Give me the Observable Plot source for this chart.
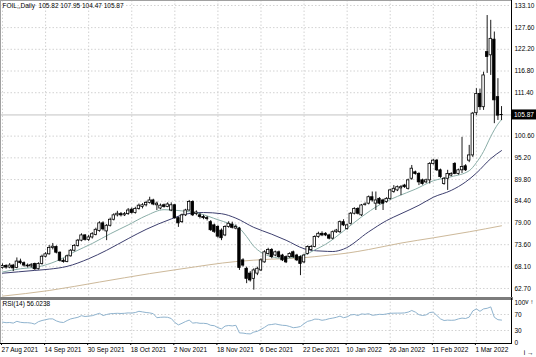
<!DOCTYPE html>
<html><head><meta charset="utf-8">
<script src="https://cdn.jsdelivr.net/npm/d3@7"></script>
<script src="https://cdn.jsdelivr.net/npm/@observablehq/plot@0.6"></script>
<style>
html,body{margin:0;padding:0;background:#fff;}
#chart{position:relative;width:536px;height:357px;overflow:hidden;background:#fff;}
#chart svg{position:absolute;left:0;}
</style></head><body><div id="chart"></div>
<script>
const symbol = "FOIL,,Daily";
const rsiName = "RSI(14)";

const opens = [67.8,68.3,67.9,68.4,67.8,69.4,69.0,68.4,68.2,68.8,
67.5,68.8,70.6,71.2,72.8,73.0,71.6,69.6,69.3,70.7,
72.1,73.3,74.6,75.9,74.8,75.4,76.0,77.0,78.9,76.9,
78.3,79.8,80.9,81.2,80.9,81.2,82.3,81.5,82.5,83.0,
83.4,84.0,84.6,83.4,82.6,83.4,83.0,82.1,83.4,80.2,
79.2,80.9,82.1,84.2,81.2,80.9,80.5,80.2,79.2,78.4,
78.0,77.1,75.9,78.0,78.6,77.6,77.6,69.7,67.6,66.4,
65.1,66.4,67.2,69.2,71.3,72.3,70.9,71.7,70.9,70.5,
70.5,71.7,70.9,70.5,69.2,71.3,72.3,73.0,75.5,76.3,
76.3,75.9,75.1,76.7,76.7,79.2,77.5,78.8,81.3,82.5,
80.9,83.5,83.8,85.4,83.8,85.0,84.6,84.2,85.0,86.7,
87.1,87.6,88.3,87.5,90.0,91.6,91.2,89.6,89.1,89.6,
93.7,94.5,92.1,88.7,90.0,90.8,93.7,91.2,92.1,93.1,
94.5,95.8,106.3,111.1,107.8,121.5,120.7,124.6,110.3,105.82];
const highs = [68.8,68.6,68.9,68.7,70.3,70.0,69.3,68.8,68.9,69.0,
69.1,71.0,71.6,73.4,73.9,73.3,71.8,70.1,71.0,72.4,
73.6,74.9,76.3,76.1,75.9,76.6,77.7,79.3,79.3,78.6,
80.2,81.3,81.9,81.6,81.6,82.6,82.7,82.9,83.7,83.8,
84.4,85.4,84.9,84.2,83.7,83.7,84.0,84.0,83.6,80.5,
81.2,82.4,84.6,84.5,82.0,81.4,80.9,80.6,79.6,78.7,
78.3,77.5,78.3,79.3,79.2,78.5,77.9,70.1,68.0,66.9,
67.6,68.0,70.1,72.1,72.7,72.6,72.0,72.0,71.2,70.8,
71.6,72.0,71.2,70.8,71.2,73.3,73.4,75.8,76.7,76.8,
76.6,76.2,77.0,77.4,79.5,79.8,78.7,81.6,82.8,82.8,
83.6,84.0,85.7,86.7,86.7,85.3,84.9,85.3,87.4,88.3,
88.2,88.3,88.6,89.9,93.3,91.9,91.5,89.9,89.9,94.0,
94.8,94.8,92.4,90.3,92.1,91.5,94.0,92.4,100.3,93.5,
98.3,106.5,112.4,112.3,116.5,130.6,129.4,126.5,114.9,107.95];
const lows = [67.5,67.5,67.6,66.9,67.6,68.6,68.0,67.8,67.8,67.2,
67.3,68.5,70.3,71.0,72.3,71.3,69.3,69.0,69.1,70.5,
71.8,73.0,74.3,74.5,74.4,75.0,75.8,76.7,77.0,74.6,
78.0,79.5,80.5,80.5,80.6,80.9,81.2,81.2,82.2,82.5,
83.0,83.7,83.3,82.1,82.3,82.7,82.8,81.8,79.9,77.9,
78.9,80.6,81.9,80.6,80.8,80.0,79.8,79.5,76.9,76.4,
75.2,74.6,75.6,77.7,77.5,77.3,67.2,68.0,63.9,64.3,
62.3,65.9,66.9,69.0,71.0,70.1,70.6,70.2,69.4,68.9,
70.2,70.2,69.4,65.9,68.9,71.0,72.0,72.8,75.2,75.6,
75.6,74.8,74.8,76.4,76.4,78.1,77.2,78.5,81.0,81.0,
80.6,83.2,83.5,84.2,82.1,83.5,82.1,83.9,84.7,86.4,
86.8,85.8,87.6,87.2,89.6,90.9,88.3,88.4,88.8,88.7,
93.4,91.8,90.1,88.4,87.1,90.5,91.0,90.9,91.3,91.8,
94.0,95.3,105.7,107.0,107.0,116.2,115.7,103.7,104.5,104.47];
const closes = [68.3,67.9,68.4,67.7,69.4,69.0,68.4,68.2,68.5,67.5,
68.8,70.6,71.2,72.8,73.1,71.6,69.6,69.3,70.7,72.1,
73.3,74.6,75.9,74.8,75.4,76.2,77.3,78.9,77.4,78.3,
79.8,80.9,81.3,80.9,81.2,82.1,81.5,82.5,83.3,83.4,
84.0,84.6,83.6,83.8,83.3,83.0,83.6,83.4,80.2,78.9,
80.9,82.1,84.2,80.9,81.6,80.5,80.2,80.0,77.2,76.8,
75.6,75.2,78.0,78.8,77.8,78.0,67.8,68.4,65.1,64.7,
67.2,67.6,69.7,71.7,72.3,70.5,71.7,70.5,69.7,69.2,
71.3,70.5,69.7,68.8,70.9,73.0,73.0,75.5,76.3,75.9,
75.9,75.1,76.7,77.1,79.2,78.4,78.4,81.3,82.5,81.3,
83.35,83.6,85.4,84.6,84.6,83.8,83.8,85.0,87.1,87.5,
87.9,87.9,87.9,89.6,92.5,91.2,89.1,88.7,89.6,93.7,
94.5,92.1,90.4,90.0,91.2,91.2,91.2,92.1,92.9,92.1,
95.8,106.2,111.1,107.8,115.7,120.3,124.8,109.5,105.7,105.87];

// moving averages, read at sample bars
const fastIdx = [0,5,10,15,20,25,30,35,40,45,50,55,60,63,66,68,70,72,75,78,81,84,87,90,95,100,105,110,115,120,125,130,132,134,136,138,139];
const fastVal = [66.8,67.6,68.1,69.5,71.8,73.9,76.3,78.5,80.8,82.3,82.0,81.3,79.8,78.9,77.7,75.6,73.2,71.7,70.6,70.2,70.4,71.0,72.3,73.7,77.0,80.5,83.5,85.6,87.4,89.5,90.5,92.0,94.0,96.8,100.5,103.6,104.7];
const midIdx = [0,9,13,18,24,29,35,40,47,51,56,61,65,70,75,79,84,86,89,92,95,102,107,111,116,120,125,129,132,136,139];
const midVal = [66.5,67.2,67.5,68.2,70.1,72.2,75.1,77.4,80.0,81.2,81.6,81.3,80.2,77.9,76.2,74.7,72.6,72.2,72.0,71.9,72.5,76.8,79.6,81.3,83.4,85.4,87.1,89.2,91.4,95.0,97.0];
const slowIdx = [0,13,27,41,50,65,75,83,91,96,102,111,120,130,139];
const slowVal = [60.8,62.2,64.3,66.4,67.6,69.4,70.0,70.3,71.0,71.5,72.4,74.0,75.3,76.8,78.3];

const rsi = [51,49.5,50,48.5,53,50.5,49.5,49.5,48.5,46,
52,55,57,59,59,54,51,50,55,59,
61,63,67,65,66,67,70,73,67.5,70,
72,72.5,73,72.5,73,74,73.5,75,78,76.5,
75,74,72,62,63,63.5,63,60,50,44,
48,52.5,56,48.5,49.5,48,48,47,43,42,
37,34,41,42.5,41.5,43,24,23.5,22,21.5,
26,28,33,38,44,45,46.5,44.5,43,42.5,
40,37,38,40,47,53,55,58.5,58,55.5,
57,59.5,61,63,66,62,64,69,70,67.5,
71.5,70.5,72,68,69,70.5,70,71.5,73,73.3,
73.5,73.5,74,76,80,76,69.5,67.5,69,75,
76,67.5,59,55,56,55.5,56,59,61,60,
63.5,79,84,78,84,85.5,89,63,57,56.0238];

const priceTicks = [62.70,68.10,73.60,79.00,84.40,89.80,95.20,100.60,111.40,116.80,122.20,127.60,133.10];
const rsiTicks = [100,70,30,0];
const rsiLevels = [70,30];
const dateTickIdx = [0,12,24,36,48,60,72,84,96,108,120,132];
const dateTickLabels = ["27 Aug 2021","14 Sep 2021","30 Sep 2021","18 Oct 2021","2 Nov 2021","18 Nov 2021","6 Dec 2021","22 Dec 2021","10 Jan 2022","26 Jan 2022","11 Feb 2022","1 Mar 2022"];

const N = closes.length;
const bars = d3.range(N).map(i => ({i, o: opens[i], h: highs[i], l: lows[i], c: closes[i]}));
const fast = fastIdx.map((i,k) => ({i, v: fastVal[k]}));
const mid = midIdx.map((i,k) => ({i, v: midVal[k]}));
const slow = slowIdx.map((i,k) => ({i, v: slowVal[k]}));
const rsiData = rsi.map((v,i) => ({i, v}));

const last = bars[N-1];
const f2 = d => d.toFixed(2);
const title = `${symbol}  ${f2(last.o)} ${f2(last.h)} ${f2(last.l)} ${f2(last.c)}`;
const rsiTitle = `${rsiName} ${rsi[N-1].toFixed(4)}`;

const W = 536;
const xDomain = [-0.56, 141.78];
const font = "Liberation Sans, Arial, sans-serif";
const fs = 6.5;
const grid = {stroke: "#c6c6c6", strokeDasharray: "1.5,2", strokeWidth: 0.8};
const styleObj = {fontFamily: font, fontSize: fs + "px", background: "transparent", overflow: "visible", color: "black"};

const main = Plot.plot({
  width: W, height: 298,
  marginLeft: 0, marginRight: 25, marginTop: 0, marginBottom: 0,
  style: styleObj,
  x: {domain: xDomain, axis: null},
  y: {domain: [60.21, 134.34], axis: null},
  marks: [
    Plot.ruleY(priceTicks, grid),
    Plot.ruleX(dateTickIdx, grid),
    Plot.ruleY([last.c], {stroke: "#b4b4b4", strokeWidth: 0.8}),
    Plot.line(slow, {x: "i", y: "v", stroke: "#cdb99a", strokeWidth: 1, curve: "monotone-x"}),
    Plot.line(mid, {x: "i", y: "v", stroke: "#3e406f", strokeWidth: 1, curve: "monotone-x"}),
    Plot.line(fast, {x: "i", y: "v", stroke: "#8aaea8", strokeWidth: 1, curve: "monotone-x"}),
    Plot.ruleX(bars, {x: "i", y1: "l", y2: "h", stroke: "black", strokeWidth: 0.9}),
    Plot.rect(bars, {x1: d => d.i - 0.34, x2: d => d.i + 0.34, y1: "o", y2: "c",
      fill: d => d.c >= d.o ? "white" : "black", stroke: "black", strokeWidth: 0.8}),
    Plot.frame({stroke: "#a0a0a0"}),
    Plot.frame({anchor: "right", stroke: "black"}),
    Plot.axisY({anchor: "right", ticks: priceTicks, tickFormat: f2, tickSize: 0, tickPadding: 3, fontSize: fs}),
    Plot.text([title], {frameAnchor: "top-left", dx: 2, dy: 3, lineAnchor: "top", textAnchor: "start", fontSize: fs, fill: "black"})
  ]
});
main.style.top = "0px";

const ys = main.scale("y");
const yLast = ys.apply(last.c);
const sv = d3.select(main);
sv.append("rect").attr("x", 511.5).attr("y", yLast - 5).attr("width", 24.5).attr("height", 10).attr("fill", "black");
sv.append("text").attr("x", 514).attr("y", yLast).attr("dy", "0.35em").attr("fill", "white")
  .attr("text-anchor", "start").attr("font-family", font).attr("font-size", fs).text(f2(last.c));

const rsiPlot = Plot.plot({
  width: W, height: 61,
  marginLeft: 0, marginRight: 25, marginTop: 2, marginBottom: 14,
  style: styleObj,
  x: {domain: xDomain, axis: null},
  y: {domain: [-2.5, 110], axis: null},
  marks: [
    Plot.ruleY(rsiLevels, grid),
    Plot.ruleX(dateTickIdx, grid),
    Plot.line(rsiData, {x: "i", y: "v", stroke: "#8fb3ce", strokeWidth: 1}),
    Plot.frame({stroke: "#a0a0a0"}),
    Plot.frame({anchor: "top", stroke: "#7c7c7c", strokeWidth: 3}),
    Plot.frame({anchor: "right", stroke: "black"}),
    Plot.frame({anchor: "bottom", stroke: "black"}),
    Plot.axisY({anchor: "right", ticks: rsiTicks, tickFormat: d => String(d), tickSize: 0, tickPadding: 3, fontSize: fs}),
    Plot.axisX({anchor: "bottom", ticks: dateTickIdx, tickFormat: d => dateTickLabels[dateTickIdx.indexOf(d)],
      tickSize: 2, tickPadding: 2, textAnchor: "start", dx: -1, fontSize: fs}),
    Plot.text([rsiTitle], {frameAnchor: "top-left", dx: 2, dy: 3, lineAnchor: "top", textAnchor: "start", fontSize: fs, fill: "black"})
  ]
});
rsiPlot.style.top = "296px";

const chart = document.getElementById("chart");
chart.appendChild(main);
chart.appendChild(rsiPlot);
</script>
</body></html>
